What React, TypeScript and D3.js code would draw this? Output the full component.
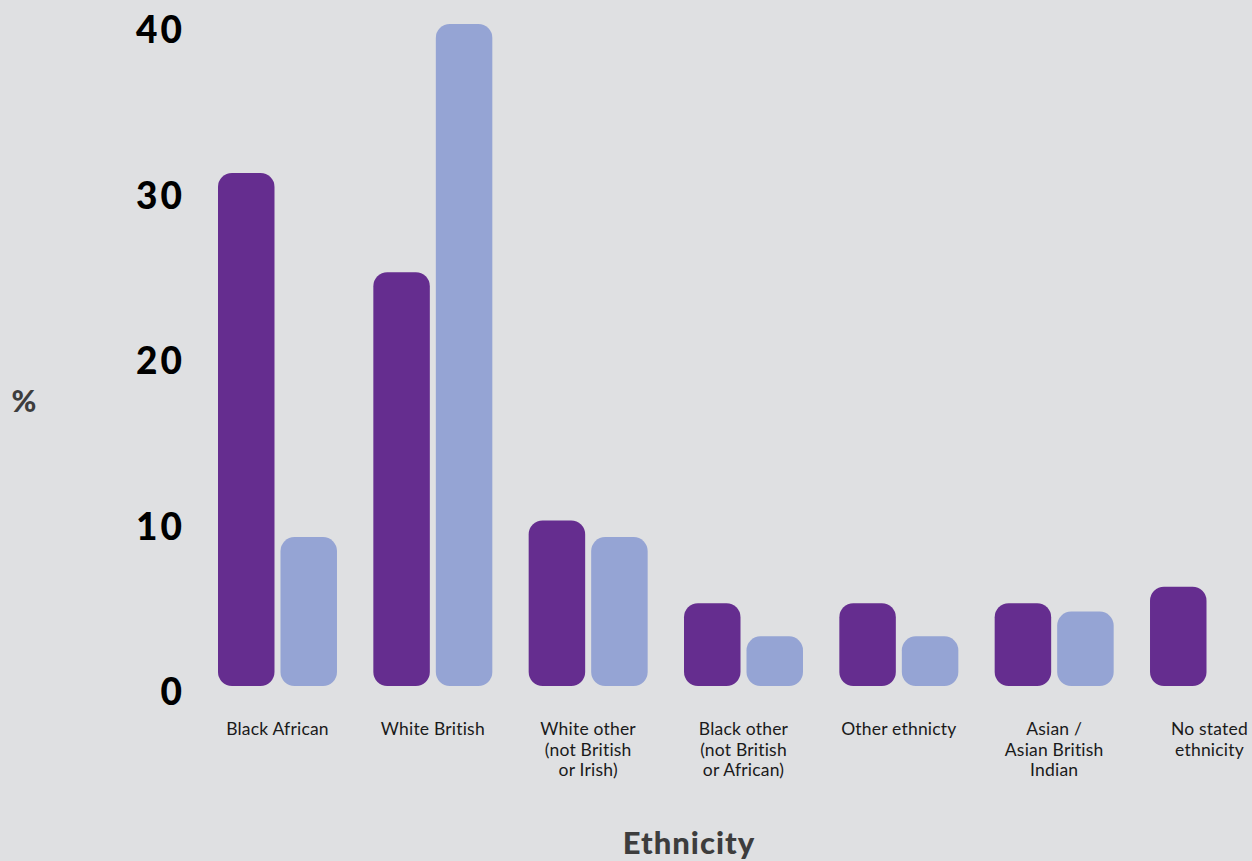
import React from "react";
import * as d3 from "d3";

const categories: string[][] = [
  ["Black African"],
  ["White British"],
  ["White other", "(not British", "or Irish)"],
  ["Black other", "(not British", "or African)"],
  ["Other ethnicty"],
  ["Asian /", "Asian British", "Indian"],
  ["No stated", "ethnicity"],
];
const seriesA: number[] = [31, 25, 10, 5, 5, 5, 6];
const seriesB: number[] = [9, 40, 9, 3, 3, 4.5, 0];
const yTicks: number[] = [0, 10, 20, 30, 40];
const seriesKeys = ["a", "b"];
const colors: Record<string, string> = { a: "#652d8f", b: "#95a4d4" };

const W = 1252;
const H = 861;

export default function App() {
  const ids = categories.map((_, i) => String(i));
  const x0 = d3
    .scaleBand<string>()
    .domain(ids)
    .range([218, 1269])
    .paddingInner(0.234)
    .paddingOuter(0);
  const x1 = d3
    .scaleBand<string>()
    .domain(seriesKeys)
    .range([0, x0.bandwidth()])
    .paddingInner(0.096)
    .paddingOuter(0);
  const y = d3.scaleLinear().domain([0, 40]).range([686, 24]);
  const r = 14;

  return (
    <svg
      width={W}
      height={H}
      style={{ position: "absolute", left: 0, top: 0, display: "block" }}
    >
      <rect x={0} y={0} width={W} height={H} fill="#dfe0e2" />
      {yTicks.map((t) => (
        <text
          key={t}
          x={185}
          y={y(t) + 19}
          textAnchor="end"
          fontFamily="Lato, 'Open Sans', sans-serif"
          fontWeight={900}
          fontSize={37}
          letterSpacing={3}
          fill="#000"
        >
          {t}
        </text>
      ))}
      <text
        x={24}
        y={412}
        textAnchor="middle"
        fontFamily="Lato, sans-serif"
        fontWeight={900}
        fontSize={30}
        fill="#3d3d3d"
      >
        %
      </text>
      {ids.map((id, i) => {
        const gx = x0(id)!;
        const vals = [seriesA[i], seriesB[i]];
        return (
          <g key={id} transform={`translate(${gx},0)`}>
            {seriesKeys.map((k, j) => {
              const v = vals[j];
              if (!v) return null;
              const top = y(v);
              const h = y(0) - top;
              return (
                <rect
                  key={k}
                  x={x1(k)!}
                  y={top}
                  width={x1.bandwidth()}
                  height={h}
                  rx={Math.min(r, h / 2)}
                  ry={Math.min(r, h / 2)}
                  fill={colors[k]}
                />
              );
            })}
            <text
              x={x0.bandwidth() / 2}
              y={735}
              textAnchor="middle"
              fontFamily="Lato, 'Noto Sans', sans-serif"
              fontSize={17.5}
              letterSpacing={0.2}
              fill="#1a1a1a"
            >
              {categories[i].map((line, li) => (
                <tspan key={li} x={x0.bandwidth() / 2} dy={li === 0 ? 0 : 20.5}>
                  {line}
                </tspan>
              ))}
            </text>
          </g>
        );
      })}
      <text
        x={689}
        y={854}
        textAnchor="middle"
        fontFamily="Lato, sans-serif"
        fontWeight={900}
        fontSize={31}
        letterSpacing={1}
        fill="#3d3d3d"
      >
        Ethnicity
      </text>
    </svg>
  );
}
